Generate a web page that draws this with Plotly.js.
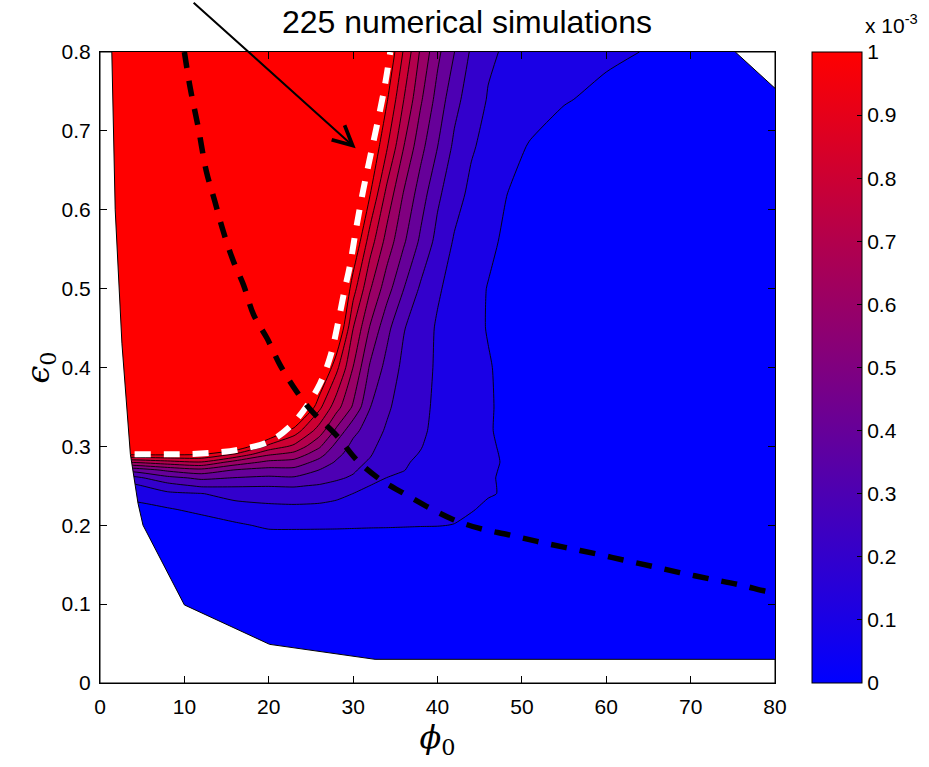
<!DOCTYPE html>
<html>
<head>
<meta charset="utf-8">
<script src="https://cdn.plot.ly/plotly-3.0.1.min.js"></script>
<style>
html,body{margin:0;padding:0;background:#ffffff;}
#chart{width:929px;height:767px;}
</style>
</head>
<body>
<div id="chart"></div>
<script>
// ---- data ----
// grid of initial angle phi0 (x) and initial strain eps0 (y)
const phi0 = [0, 4, 8, 12, 16, 20, 23, 26, 28, 30, 32, 34, 36, 38, 40, 42, 44, 46, 48, 51, 55, 60, 65, 70, 75, 80];
const eps0 = [0, 0.03, 0.1, 0.17, 0.2, 0.22, 0.24, 0.25, 0.26, 0.27, 0.28, 0.29, 0.3, 0.32, 0.35, 0.4, 0.45, 0.5, 0.56, 0.62, 0.68, 0.74, 0.8];
// field value in units of 1e-3, one row per eps0 value
const zRows = [
 [0,0,0,0,0,0,0,0,0,0,0,0,0,0,0,0,0,0,0,0,0,0,0,0,0,0],
 [0.01,0.01,0.01,0.01,0.01,0.01,0.01,0.01,0.01,0.01,0.01,0.01,0.01,0.01,0.01,0.01,0.01,0.01,0.01,0.01,0.01,0.01,0.01,0.01,0.01,0.01],
 [0.01,0.01,0.01,0.01,0.01,0.01,0.01,0.01,0.01,0.01,0.01,0.01,0.01,0.01,0.01,0.01,0.01,0.01,0.01,0.01,0.01,0.01,0.01,0.01,0.01,0.01],
 [0.01,0.01,0.01,0.01,0.01,0.03,0.03,0.03,0.03,0.03,0.03,0.03,0.03,0.03,0.03,0.03,0.02,0.02,0.02,0.02,0.02,0.02,0.02,0.02,0.02,0.02],
 [0.02,0.02,0.02,0.05,0.087,0.114,0.115,0.114,0.113,0.111,0.109,0.108,0.106,0.104,0.103,0.098,0.08,0.05,0.03,0.02,0.02,0.02,0.02,0.02,0.02,0.02],
 [0.06,0.06,0.09,0.125,0.152,0.17,0.174,0.171,0.163,0.156,0.145,0.138,0.134,0.124,0.122,0.118,0.105,0.085,0.05,0.03,0.02,0.02,0.02,0.02,0.02,0.02],
 [0.14,0.14,0.18,0.196,0.238,0.25,0.255,0.245,0.226,0.199,0.185,0.172,0.165,0.15,0.141,0.129,0.118,0.106,0.094,0.05,0.03,0.02,0.02,0.02,0.02,0.02],
 [0.18,0.18,0.26,0.315,0.309,0.304,0.308,0.291,0.272,0.243,0.199,0.186,0.174,0.158,0.146,0.133,0.12,0.107,0.093,0.05,0.03,0.02,0.02,0.02,0.02,0.02],
 [0.27,0.27,0.37,0.42,0.396,0.381,0.388,0.344,0.315,0.287,0.228,0.199,0.187,0.168,0.153,0.138,0.122,0.107,0.0914,0.05,0.03,0.02,0.02,0.02,0.02,0.02],
 [0.44,0.44,0.52,0.57,0.495,0.468,0.471,0.398,0.352,0.314,0.258,0.214,0.202,0.18,0.168,0.149,0.131,0.112,0.091,0.05,0.03,0.02,0.02,0.02,0.02,0.02],
 [0.71,0.71,0.76,0.795,0.66,0.576,0.562,0.467,0.389,0.333,0.288,0.228,0.207,0.189,0.173,0.153,0.133,0.114,0.094,0.05,0.03,0.02,0.02,0.02,0.02,0.02],
 [1.02,1.02,1.02,1.005,0.89,0.715,0.667,0.538,0.428,0.353,0.309,0.243,0.213,0.197,0.176,0.155,0.1335,0.113,0.092,0.05,0.03,0.02,0.02,0.02,0.02,0.02],
 [1.3,1.3,1.3,1.3,1.11,0.869,0.778,0.615,0.468,0.373,0.325,0.257,0.219,0.2025,0.18,0.157,0.134,0.1115,0.0885,0.05,0.03,0.02,0.02,0.02,0.02,0.02],
 [1.5,1.5,1.5,1.5,1.4,1.15,0.958,0.753,0.58,0.426,0.356,0.286,0.23,0.212,0.1825,0.1575,0.1325,0.1075,0.0825,0.05,0.03,0.02,0.02,0.02,0.02,0.02],
 [1.5,1.5,1.5,1.5,1.5,1.5,1.3,0.926,0.742,0.587,0.403,0.319,0.247,0.22,0.185,0.159,0.134,0.109,0.083,0.05,0.03,0.02,0.02,0.02,0.02,0.02],
 [1.5,1.5,1.5,1.5,1.5,1.5,1.5,1.18,0.931,0.698,0.487,0.367,0.275,0.232,0.188,0.162,0.136,0.107,0.079,0.05,0.03,0.02,0.02,0.02,0.02,0.02],
 [1.5,1.5,1.5,1.5,1.5,1.5,1.5,1.5,1.15,0.802,0.591,0.429,0.306,0.242,0.19,0.159,0.127,0.095,0.06,0.04,0.03,0.02,0.02,0.02,0.02,0.02],
 [1.5,1.5,1.5,1.5,1.5,1.5,1.5,1.5,1.25,0.943,0.71,0.542,0.401,0.285,0.211,0.169,0.133,0.096,0.06,0.04,0.03,0.02,0.02,0.02,0.02,0.02],
 [1.5,1.5,1.5,1.5,1.5,1.5,1.5,1.5,1.5,1.11,0.85,0.662,0.514,0.381,0.268,0.191,0.156,0.121,0.086,0.04,0.03,0.02,0.02,0.02,0.02,0.02],
 [1.5,1.5,1.5,1.5,1.5,1.5,1.5,1.5,1.5,1.25,1.005,0.77,0.592,0.45,0.32,0.235,0.179,0.142,0.104,0.06,0.03,0.02,0.02,0.02,0.02,0.02],
 [1.5,1.5,1.5,1.5,1.5,1.5,1.5,1.5,1.5,1.4,1.11,0.91,0.701,0.533,0.401,0.279,0.21,0.173,0.14,0.092,0.04,0.03,0.02,0.02,0.02,0.02],
 [1.5,1.5,1.5,1.5,1.5,1.5,1.5,1.5,1.5,1.5,1.2,1.01,0.801,0.615,0.4625,0.333,0.248,0.194,0.175,0.147,0.109,0.07,0.04,0.03,0.02,0.02],
 [1.5,1.5,1.5,1.5,1.5,1.5,1.5,1.5,1.5,1.5,1.3,1.1,0.889,0.685,0.525,0.401,0.286,0.214,0.191,0.174,0.151,0.122,0.094,0.06,0.04,0.04]
];
// contour levels (units of 1e-3)
const levelStart = 0.1, levelEnd = 1.0, levelStep = 0.1;

// outline of the simulated domain (outside is blank)
const blankLeftX = [0, 1.4, 1.8, 2.6, 3.6, 4.5, 5.1, 10.0, 20.1, 32.6, 80, 80, 0, 0];
const blankLeftY = [0.8, 0.8, 0.6, 0.43, 0.29, 0.228, 0.2, 0.099, 0.049, 0.03, 0.03, 0, 0, 0.8];
const blankCornerX = [75.3, 80, 80, 75.3];
const blankCornerY = [0.8, 0.754, 0.8, 0.8];

// white dashed curve
const whiteX = [4.1, 9.0, 12.9, 16.5, 20.0, 22.5, 24.5, 26.1, 27.3, 28.2, 29.0, 29.6, 30.4, 31.2, 32.2, 33.6, 34.4];
const whiteY = [0.290, 0.290, 0.2915, 0.296, 0.306, 0.325, 0.351, 0.380, 0.414, 0.456, 0.499, 0.528, 0.579, 0.625, 0.676, 0.748, 0.8];
// black dashed curve
const blackX = [10.0, 10.7, 11.65, 12.6, 13.6, 14.6, 15.8, 17.0, 18.2, 19.8, 21.3, 22.9, 24.9, 28.1, 30.4, 33.2, 35.9, 38.7, 41.9, 45.0, 48.4, 51.8, 55.1, 58.7, 62.0, 65.4, 68.7, 72.3, 75.6, 79.0, 80];
const blackY = [0.8, 0.754, 0.704, 0.649, 0.611, 0.573, 0.535, 0.505, 0.467, 0.437, 0.404, 0.376, 0.347, 0.313, 0.283, 0.258, 0.241, 0.224, 0.207, 0.196, 0.188, 0.1795, 0.172, 0.164, 0.156, 0.148, 0.140, 0.132, 0.125, 0.116, 0.114];

// colour bar ticks
const cbTickVals = [0, 0.1, 0.2, 0.3, 0.4, 0.5, 0.6, 0.7, 0.8, 0.9, 1];
const cbTickText = ['0', '0.1', '0.2', '0.3', '0.4', '0.5', '0.6', '0.7', '0.8', '0.9', '1'];
const arrowTip = {x: 30.3, y: 0.678};

// ---- drawing ----
const cscale = [[0, 'rgb(0,0,255)'], [1, 'rgb(255,0,0)']];
const tickFont = {family: 'Liberation Sans, Arial, sans-serif', size: 21, color: '#000'};

const traces = [
  {
    type: 'contour', x: phi0, y: eps0, z: zRows,
    autocontour: false,
    contours: {start: levelStart, end: levelEnd, size: levelStep, coloring: 'fill', showlines: true},
    colorscale: cscale, showscale: false,
    line: {color: '#000', width: 0.9, smoothing: 0.6},
    hoverinfo: 'skip'
  },
  {
    type: 'scatter', x: blankLeftX, y: blankLeftY, mode: 'lines', fill: 'toself',
    fillcolor: '#ffffff', line: {color: '#000', width: 1}, hoverinfo: 'skip', showlegend: false
  },
  {
    type: 'scatter', x: blankCornerX, y: blankCornerY, mode: 'lines', fill: 'toself',
    fillcolor: '#ffffff', line: {color: '#000', width: 1}, hoverinfo: 'skip', showlegend: false
  },
  {
    type: 'scatter', x: whiteX, y: whiteY, mode: 'lines',
    line: {color: '#ffffff', width: 6, dash: '16px,13px', shape: 'spline'},
    hoverinfo: 'skip', showlegend: false
  },
  {
    type: 'scatter', x: blackX, y: blackY, mode: 'lines',
    line: {color: '#000000', width: 5.5, dash: '16px,13px', shape: 'spline'},
    hoverinfo: 'skip', showlegend: false
  },
  {
    type: 'scatter', x: [-50, -50], y: [-1, -1], mode: 'markers',
    marker: {
      color: [0, 1], cmin: 0, cmax: 1, colorscale: cscale, showscale: true, size: 1,
      colorbar: {
        thickness: 50, thicknessmode: 'pixels', len: 1, lenmode: 'fraction',
        x: 1.0548, xanchor: 'left', y: 0.5, yanchor: 'middle', xpad: 0, ypad: 0,
        outlinewidth: 1, outlinecolor: '#000', borderwidth: 0,
        tickvals: cbTickVals, ticktext: cbTickText,
        ticks: 'inside', ticklen: 5, tickcolor: '#000', tickwidth: 1,
        tickfont: tickFont
      }
    },
    hoverinfo: 'skip', showlegend: false
  }
];

const layout = {
  width: 929, height: 767,
  margin: {l: 100, r: 154, t: 52, b: 84},
  paper_bgcolor: '#ffffff', plot_bgcolor: '#ffffff',
  showlegend: false,
  xaxis: {
    range: [0, 80], autorange: false, dtick: 10, tick0: 0,
    ticks: 'inside', ticklen: 7, tickcolor: '#000', mirror: 'ticks',
    showline: true, linecolor: '#000', linewidth: 1,
    showgrid: false, zeroline: false, automargin: false,
    tickfont: tickFont, ticklabelstandoff: 5,
    title: {text: '<i>ϕ</i><sub>0</sub>', font: {family: 'DejaVu Serif, serif', size: 32, color: '#000'}, standoff: 6}
  },
  yaxis: {
    range: [0, 0.8], autorange: false, dtick: 0.1, tick0: 0,
    ticks: 'inside', ticklen: 7, tickcolor: '#000', mirror: 'ticks',
    showline: true, linecolor: '#000', linewidth: 1,
    showgrid: false, zeroline: false, automargin: false,
    tickfont: tickFont, ticklabelstandoff: 4,
    title: {text: '<i>ϵ</i><sub>0</sub>', font: {family: 'DejaVu Serif, serif', size: 32, color: '#000'}, standoff: 2}
  },
  annotations: [
    {
      text: '225 numerical simulations', xref: 'paper', yref: 'paper',
      x: 0.5437, y: 1.0475, xanchor: 'center', yanchor: 'middle', showarrow: false,
      font: {family: 'Liberation Sans, Arial, sans-serif', size: 32, color: '#000'}
    },
    {
      text: ' ', xref: 'x', yref: 'y', x: arrowTip.x, y: arrowTip.y,
      ax: -165, ay: -151, showarrow: true, arrowhead: 5, arrowsize: 1.9,
      arrowwidth: 2, arrowcolor: '#000', standoff: 0
    },
    {
      text: 'x 10<sup>-3</sup>', xref: 'paper', yref: 'paper',
      x: 1.1304, y: 1.0205, xanchor: 'left', yanchor: 'bottom', showarrow: false,
      font: {family: 'Liberation Sans, Arial, sans-serif', size: 21, color: '#000'}
    }
  ]
};

Plotly.newPlot('chart', traces, layout, {displayModeBar: false, staticPlot: true});
</script>
</body>
</html>
